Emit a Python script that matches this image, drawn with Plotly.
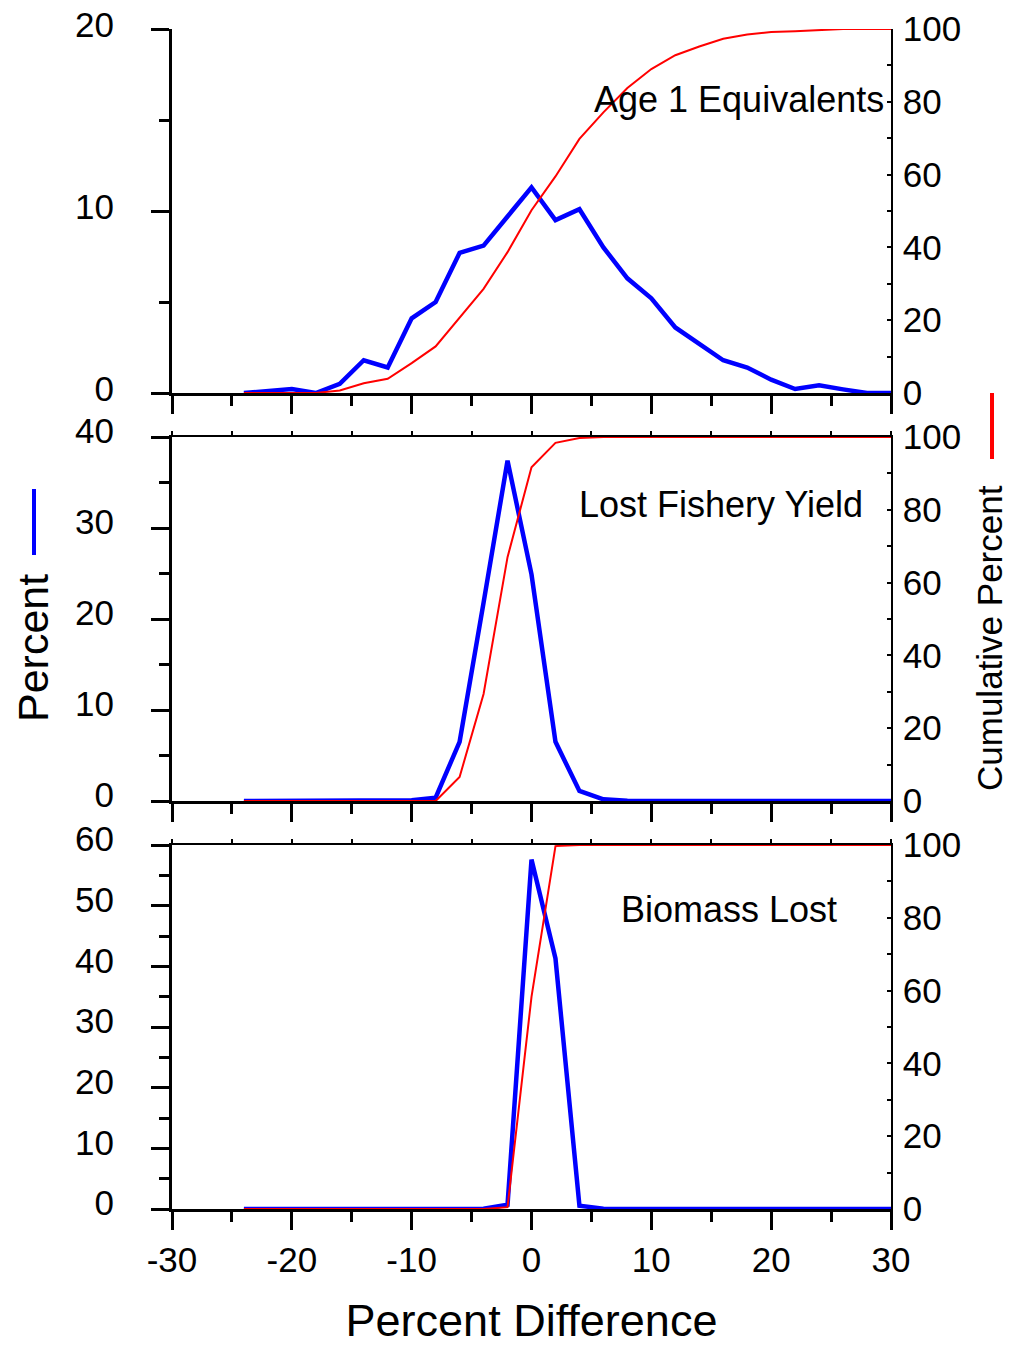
import plotly.graph_objects as go

# ---------------- data ----------------
pct_diff = [-24, -22, -20, -18, -16, -14, -12, -10, -8, -6, -4, -2, 0, 2, 4, 6,
            8, 10, 12, 14, 16, 18, 20, 22, 24, 26, 28, 30]

age1_pct = [0.0, 0.1, 0.22, 0.0, 0.5, 1.8, 1.4, 4.1, 5.0, 7.7, 8.1, 9.7, 11.3, 9.5,
            10.1, 8.0, 6.3, 5.2, 3.6, 2.7, 1.8, 1.4, 0.73, 0.22, 0.42, 0.2, 0.0, 0.0]
age1_cum = [0, 0, 0, 0, 0.7, 2.7, 3.9, 8.2, 12.8, 20.6, 28.6, 38.7, 50.2, 59.5,
            69.8, 77.1, 83.8, 89.0, 92.8, 95.2, 97.3, 98.5, 99.2, 99.4, 99.7, 100, 100, 100]

yield_pct = [0, 0, 0, 0, 0, 0, 0, 0.07, 0.37, 6.5, 21.8, 37.4, 24.9, 6.5,
             1.1, 0.18, 0.03, 0, 0, 0, 0, 0, 0, 0, 0, 0, 0, 0]
yield_cum = [0, 0, 0, 0, 0, 0, 0, 0, 0, 6.6, 29.4, 67.0, 91.7, 98.4,
             99.7, 100, 100, 100, 100, 100, 100, 100, 100, 100, 100, 100, 100, 100]

biomass_pct = [0, 0, 0, 0, 0, 0, 0, 0, 0, 0, 0.05, 0.7, 57.6, 41.3,
               0.55, 0.05, 0, 0, 0, 0, 0, 0, 0, 0, 0, 0, 0, 0]
biomass_cum = [0, 0, 0, 0, 0, 0, 0, 0, 0, 0, 0, 0.5, 58.3, 99.7,
               100, 100, 100, 100, 100, 100, 100, 100, 100, 100, 100, 100, 100, 100]

panel_titles = ["Age 1 Equivalents", "Lost Fishery Yield", "Biomass Lost"]
left_ranges = [20, 40, 60]
x_ticks = [-30, -20, -10, 0, 10, 20, 30]
x_tick_text = ["-30", "-20", "-10", "0", "10", "20", "30"]

# ---------------- layout helpers ----------------
# The page body has an 8px margin, so the figure is drawn 8px shorter/narrower
# and all window-pixel positions are shifted by that offset.
OFF = 8
W, H = 1011 - OFF, 1346 - OFF
L, R = 172 - OFF, 891 - OFF
FONT = "Liberation Sans, Arial, sans-serif"


def px_x(p):  # window pixel -> paper x
    return (p - OFF - L) / (R - L)


def px_y(p):  # window pixel -> paper y
    return 1 - (p - OFF) / H


panels = [(29, 393), (437, 801), (845, 1209)]  # window pixel top, bottom

fig = go.Figure()
series = [(age1_pct, age1_cum), (yield_pct, yield_cum), (biomass_pct, biomass_cum)]

layout = dict(
    width=W, height=H,
    margin=dict(l=L, r=W - R, t=0, b=0, autoexpand=False),
    paper_bgcolor="white", plot_bgcolor="white",
    showlegend=False,
    font=dict(family=FONT, color="black", size=35),
)

for i, ((top, bot), (pv, cv), ymax) in enumerate(zip(panels, series, left_ranges)):
    n = i + 1
    xa = "x" if n == 1 else f"x{n}"
    ya_left = "y" if n == 1 else f"y{n}"
    ya_right = f"y{n + 3}"
    dom = [px_y(bot), px_y(top)]

    fig.add_trace(go.Scatter(x=pct_diff, y=cv, xaxis=xa, yaxis=ya_right, mode="lines",
                             line=dict(color="#ff0000", width=2)))
    fig.add_trace(go.Scatter(x=pct_diff, y=pv, xaxis=xa, yaxis=ya_left, mode="lines",
                             line=dict(color="#0000ff", width=4.5)))

    layout[f"xaxis{'' if n == 1 else n}"] = dict(
        domain=[0, 1], range=[-30, 30], anchor=ya_left, automargin=False,
        tickvals=x_ticks, ticktext=x_tick_text,
        ticks="outside", ticklen=18, tickwidth=3, tickcolor="black",
        minor=dict(dtick=5, tick0=0, ticks="outside", ticklen=10, tickwidth=3, tickcolor="black"),
        showline=True, linewidth=3, linecolor="black", layer="below traces",
        showgrid=False, zeroline=False,
        showticklabels=(n == 3), tickfont=dict(size=35),
        title=dict(text="Percent Difference", font=dict(size=45), standoff=34) if n == 3 else None,
    )
    layout[f"yaxis{'' if n == 1 else n}"] = dict(
        domain=dom, range=[0, ymax], anchor=xa, automargin=False,
        dtick=10, tick0=0, ticks="outside", ticklen=18, tickwidth=3, tickcolor="black",
        minor=dict(dtick=5, tick0=0, ticks="outside", ticklen=10, tickwidth=3, tickcolor="black"),
        showline=True, linewidth=3, linecolor="black",
        showgrid=False, zeroline=False, tickfont=dict(size=35),
        ticklabelstandoff=30, ticklabelshift=(-4 if n == 1 else -6), ticklabeloverflow="allow",
    )
    layout[f"yaxis{n + 3}"] = dict(
        domain=dom, range=[0, 100], anchor=xa, overlaying=ya_left, side="right",
        automargin=False,
        dtick=20, tick0=0, ticks="inside", ticklen=4, tickwidth=1.5, tickcolor="black",
        minor=dict(dtick=10, tick0=0, ticks="inside", ticklen=4, tickwidth=1.5, tickcolor="black"),
        showline=True, linewidth=1.5, linecolor="black",
        showgrid=False, zeroline=False, tickfont=dict(size=35),
        ticklabelstandoff=3,
    )

# top borders with small ticks for middle and bottom panels
for k, n in [(4, 2), (5, 3)]:
    fig.add_trace(go.Scatter(x=[], y=[], xaxis=f"x{k}", yaxis=f"y{n}", mode="lines"))
    layout[f"xaxis{k}"] = dict(
        domain=[0, 1], range=[-30, 30], anchor=f"y{n}", overlaying=f"x{n}", side="top",
        automargin=False,
        dtick=5, tick0=0, ticks="outside", ticklen=4, tickwidth=2, tickcolor="black",
        showline=True, linewidth=2, linecolor="black",
        showgrid=False, zeroline=False, showticklabels=False,
    )

annotations = [
    dict(text=panel_titles[0], x=px_x(886), y=px_y(99), xanchor="right", yanchor="middle"),
    dict(text=panel_titles[1], x=px_x(721), y=px_y(505), xanchor="center", yanchor="middle"),
    dict(text=panel_titles[2], x=px_x(729), y=px_y(909), xanchor="center", yanchor="middle"),
    dict(text="Percent", x=px_x(33), y=px_y(648), xanchor="center", yanchor="middle",
         textangle=-90, font=dict(size=43)),
    dict(text="Cumulative Percent", x=px_x(989), y=px_y(638), xanchor="center", yanchor="middle",
         textangle=-90, font=dict(size=35)),
]
for a in annotations:
    a.update(xref="paper", yref="paper", showarrow=False)
    a.setdefault("font", dict(size=36))
layout["annotations"] = annotations

layout["shapes"] = [
    dict(type="line", xref="paper", yref="paper", x0=px_x(34), x1=px_x(34),
         y0=px_y(489), y1=px_y(555), line=dict(color="#0000ff", width=4)),
    dict(type="line", xref="paper", yref="paper", x0=px_x(992), x1=px_x(992),
         y0=px_y(393), y1=px_y(459), line=dict(color="#ff0000", width=4)),
]

fig.update_layout(**layout)
fig.write_html("out.html")
